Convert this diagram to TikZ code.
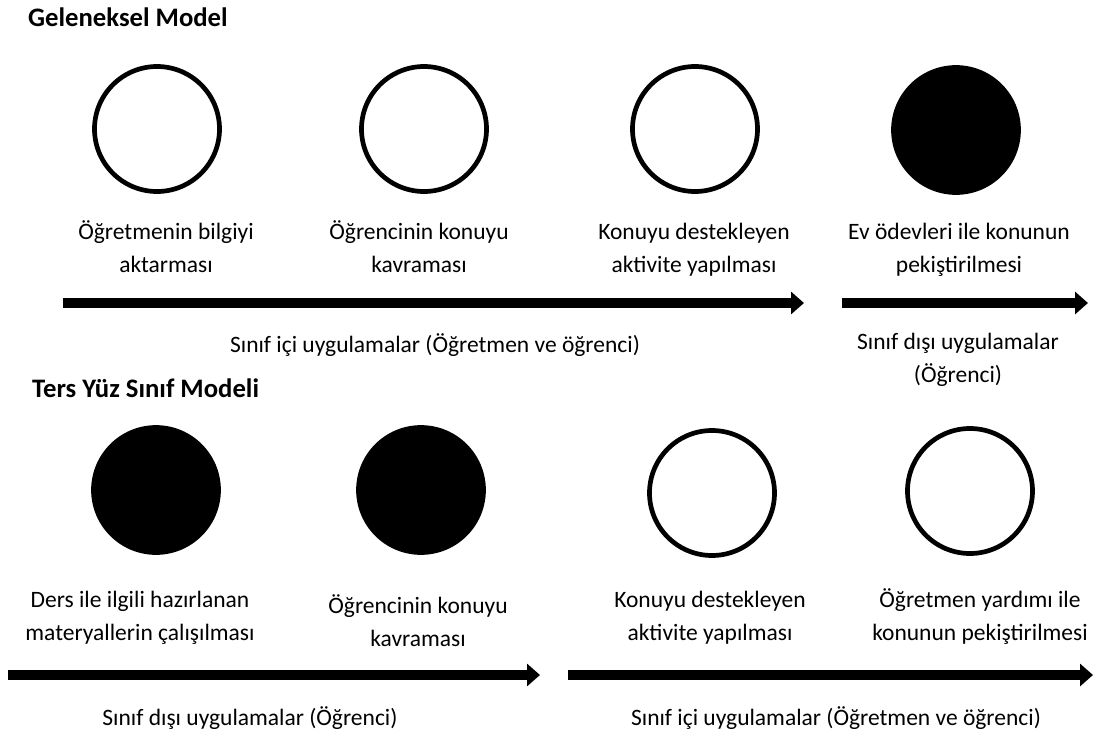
\documentclass[tikz,border=0pt]{standalone}
\usepackage{fontspec}
\setmainfont{Carlito}
\usetikzlibrary{arrows.meta}

\begin{document}
\begin{tikzpicture}[x=1pt, y=-1pt,
  title/.style={anchor=base west, inner sep=0pt, font=\fontsize{26.7}{32.5}\selectfont\bfseries},
  stage/.style={circle, draw, line width=4.7pt, minimum size=125pt, inner sep=0pt},
  done/.style={stage, fill=black},
  lbl/.style={anchor=base, align=center, inner sep=0pt, font=\fontsize{23.5}{32.5}\selectfont},
  arr/.style={line width=10pt, -{Triangle[length=13pt, width=22pt]}}
]
\useasboundingbox (0,0) rectangle (1106,736);

% Geleneksel Model
\node[title] (gm) at (28,26) {Geleneksel Model};
\node[stage] (g1) at (157,129) {};
\node[stage] (g2) at (424,129) {};
\node[stage] (g3) at (695,129) {};
\node[done] (g4) at (956,130) {};

% base = baseline of the last line
\node[lbl] (gl1) at (166,272) {Öğretmenin bilgiyi\\aktarması};
\node[lbl] (gl2) at (419,272) {Öğrencinin konuyu\\kavraması};
\node[lbl] (gl3) at (694,272) {Konuyu destekleyen\\aktivite yapılması};
\node[lbl] (gl4) at (959,272) {Ev ödevleri ile konunun\\pekiştirilmesi};

\coordinate (ga1) at (63,303);
\coordinate (gb1) at (804,303);
\coordinate (ga2) at (842,303);
\coordinate (gb2) at (1088,303);
\draw[arr] (ga1) -- (gb1);
\draw[arr] (ga2) -- (gb2);
\node[lbl] (gu1) at (435,352) {Sınıf içi uygulamalar (Öğretmen ve öğrenci)};
\node[lbl] (gu2) at (958,382) {Sınıf dışı uygulamalar\\(Öğrenci)};

% Ters Yuz Sinif Modeli
\node[title] (tm) at (32,397) {Ters Yüz Sınıf Modeli};
\node[done] (t1) at (156,490) {};
\node[done] (t2) at (421,490) {};
\node[stage] (t3) at (712,493) {};
\node[stage] (t4) at (970,491) {};

\node[lbl] (tl1) at (140,640) {Ders ile ilgili hazırlanan\\materyallerin çalışılması};
\node[lbl] (tl2) at (418,646) {Öğrencinin konuyu\\kavraması};
\node[lbl] (tl3) at (710,640) {Konuyu destekleyen\\aktivite yapılması};
\node[lbl] (tl4) at (980,640) {Öğretmen yardımı ile\\konunun pekiştirilmesi};

\coordinate (ta1) at (8,675);
\coordinate (tb1) at (540,675);
\coordinate (ta2) at (568,675);
\coordinate (tb2) at (1093,675);
\draw[arr] (ta1) -- (tb1);
\draw[arr] (ta2) -- (tb2);
\node[lbl] (tu1) at (250,725) {Sınıf dışı uygulamalar (Öğrenci)};
\node[lbl] (tu2) at (836,725) {Sınıf içi uygulamalar (Öğretmen ve öğrenci)};
\end{tikzpicture}
\end{document}
